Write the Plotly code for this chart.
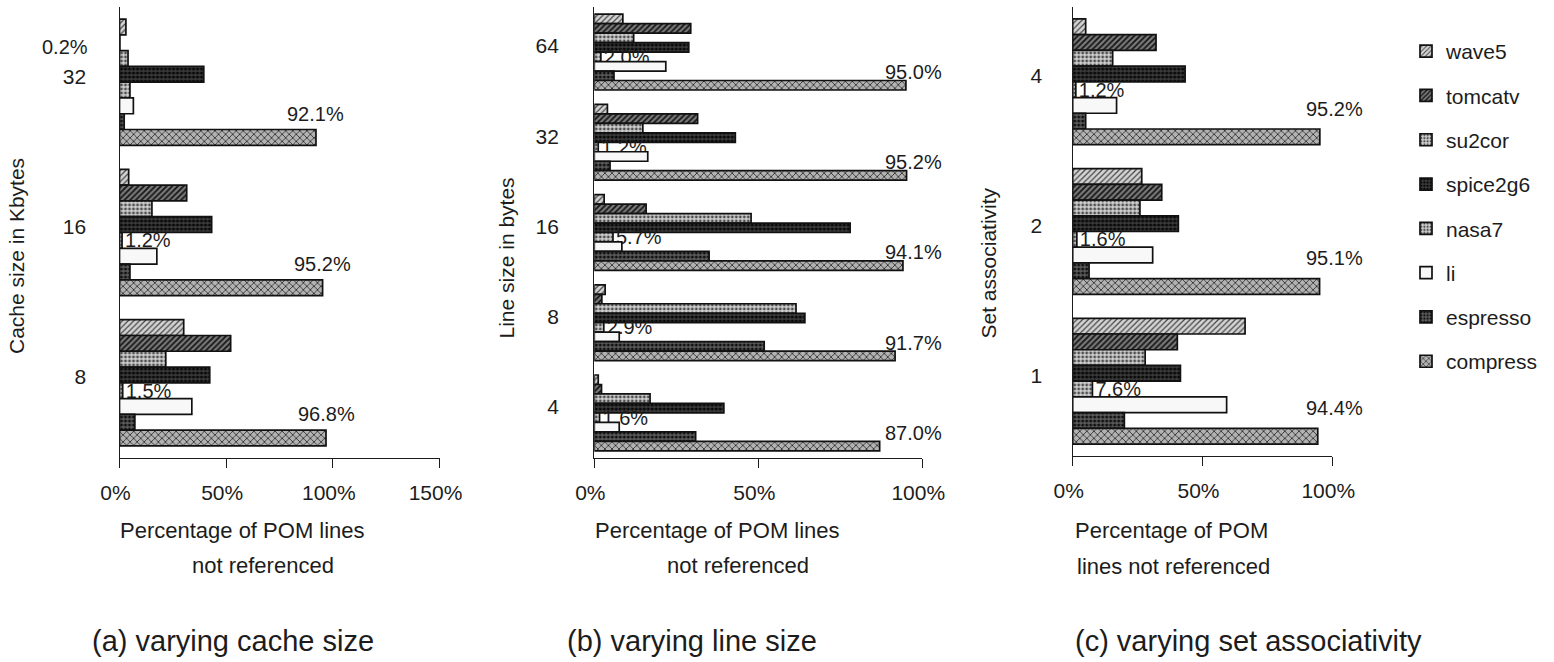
import plotly.graph_objects as go

FONT = "Liberation Sans, Arial, Helvetica, sans-serif"
INK = "#1c1c1c"
W, H = 1554, 662

SERIES = ["wave5", "tomcatv", "su2cor", "spice2g6", "nasa7", "li", "espresso", "compress"]

# (a) varying cache size (Kbytes)
cache_sizes = ["32", "16", "8"]
cache_wave5 = [3.0, 4.3, 30.1]
cache_tomcatv = [0.2, 31.5, 52.1]
cache_su2cor = [4.0, 15.2, 21.7]
cache_spice2g6 = [39.5, 43.2, 42.3]
cache_nasa7 = [4.9, 1.2, 1.5]
cache_li = [6.5, 17.5, 33.9]
cache_espresso = [2.2, 4.9, 7.2]
cache_compress = [92.1, 95.2, 96.8]
cache_small_label = ["tomcatv", "nasa7", "nasa7"]

# (b) varying line size (bytes)
line_sizes = ["64", "32", "16", "8", "4"]
line_wave5 = [8.7, 4.0, 3.0, 3.3, 1.2]
line_tomcatv = [29.4, 31.5, 15.8, 2.3, 2.2]
line_su2cor = [12.0, 14.8, 47.8, 61.5, 17.0]
line_spice2g6 = [28.8, 43.0, 78.0, 64.2, 39.5]
line_nasa7 = [2.0, 1.2, 5.7, 2.9, 1.6]
line_li = [21.8, 16.3, 8.4, 7.6, 7.6]
line_espresso = [6.0, 4.8, 35.0, 51.8, 30.9]
line_compress = [95.0, 95.2, 94.1, 91.7, 87.0]
line_small_label = ["nasa7", "nasa7", "nasa7", "nasa7", "nasa7"]

# (c) varying set associativity
assoc_ways = ["4", "2", "1"]
assoc_wave5 = [5.0, 26.6, 66.4]
assoc_tomcatv = [32.1, 34.3, 40.3]
assoc_su2cor = [15.4, 25.9, 27.9]
assoc_spice2g6 = [43.3, 40.7, 41.5]
assoc_nasa7 = [1.2, 1.6, 7.6]
assoc_li = [16.9, 30.8, 59.3]
assoc_espresso = [5.0, 6.3, 19.9]
assoc_compress = [95.2, 95.1, 94.4]
assoc_small_label = ["nasa7", "nasa7", "nasa7"]

ticks_a = [0, 50, 100, 150]
ticks_bc = [0, 50, 100]
ticktext_a = ["0%", "50%", "100%", "150%"]
ticktext_bc = ["0%", "50%", "100%"]


def px(x):
    return x / W


def py(y):
    return 1 - y / H


BARGAP = 0.16
SLOT = (1 - BARGAP) / len(SERIES)

FILL = {
    "wave5": dict(bg="#d4d4d4", fg="#444444", shape="/", size=4, solidity=0.3),
    "tomcatv": dict(bg="#7a7a7a", fg="#141414", shape="/", size=4, solidity=0.45),
    "su2cor": dict(bg="#d0d0d0", fg="#505050", shape=".", size=4, solidity=0.4),
    "spice2g6": dict(bg="#3c3c3c", fg="#080808", shape=".", size=4, solidity=0.5),
    "nasa7": dict(bg="#cfcfcf", fg="#505050", shape=".", size=4, solidity=0.4),
    "li": dict(bg="#f8f8f8", fg="#f8f8f8", shape="", size=4, solidity=0.3),
    "espresso": dict(bg="#5c5c5c", fg="#101010", shape=".", size=4, solidity=0.45),
    "compress": dict(bg="#b2b2b2", fg="#2a2a2a", shape="x", size=5, solidity=0.3),
}

panels = [
    dict(
        cats=cache_sizes,
        values=[cache_wave5, cache_tomcatv, cache_su2cor, cache_spice2g6,
                cache_nasa7, cache_li, cache_espresso, cache_compress],
        small=cache_small_label, small_side=["left", "right", "right"],
        xmax=150, ticks=ticks_a, ticktext=ticktext_a,
        xdom=(119.5, 439.5), ydom=(7, 458), standoff=28,
        ytitle="Cache size in Kbytes", ytitle_pos=(16.5, 256.5),
        xtitle=[("Percentage of POM lines", 118, 530), ("not referenced", 190, 565)],
        caption=("(a) varying cache size", 90),
        top_anchor="value", top_shift=0, top_slots=2.0,
    ),
    dict(
        cats=line_sizes,
        values=[line_wave5, line_tomcatv, line_su2cor, line_spice2g6,
                line_nasa7, line_li, line_espresso, line_compress],
        small=line_small_label, small_side=["right"] * 5,
        xmax=100, ticks=ticks_bc, ticktext=ticktext_bc,
        xdom=(594.3, 922.3), ydom=(7, 458), standoff=30,
        ytitle="Line size in bytes", ytitle_pos=(506, 258.5),
        xtitle=[("Percentage of POM lines", 593, 530), ("not referenced", 665, 565)],
        caption=("(b) varying line size", 565),
        top_anchor="axis", top_shift=-9, top_slots=2.1,
    ),
    dict(
        cats=assoc_ways,
        values=[assoc_wave5, assoc_tomcatv, assoc_su2cor, assoc_spice2g6,
                assoc_nasa7, assoc_li, assoc_espresso, assoc_compress],
        small=assoc_small_label, small_side=["right"] * 3,
        xmax=100, ticks=ticks_bc, ticktext=ticktext_bc,
        xdom=(1072.7, 1332.3), ydom=(7, 456), standoff=25,
        ytitle="Set associativity", ytitle_pos=(988, 263.5),
        xtitle=[("Percentage of POM", 1073, 530), ("lines not referenced", 1075, 566)],
        caption=("(c) varying set associativity", 1073),
        top_anchor="axis", top_shift=2, top_slots=1.7,
    ),
]

fig = go.Figure()
annotations = []
layout = {}

for k, p in enumerate(panels):
    n = k + 1
    xs = "" if n == 1 else str(n)
    xref, yref = "x" + xs, "y" + xs
    ncat = len(p["cats"])
    ypos = list(range(ncat))

    for si, name in enumerate(SERIES):
        vals = p["values"][si]
        text = [
            f"{v:.1f}%" if (p["small"][g] == name and p["small_side"][g] == "right") else ""
            for g, v in enumerate(vals)
        ]
        f = FILL[name]
        fig.add_trace(go.Bar(
            x=vals, y=ypos, orientation="h", name=name,
            xaxis=xref, yaxis=yref,
            legendgroup=name, showlegend=(k == 0),
            marker=dict(
                color=f["bg"],
                line=dict(color="#111111", width=1.7),
                pattern=dict(shape=f["shape"], fgcolor=f["fg"], bgcolor=f["bg"],
                             size=f["size"], solidity=f["solidity"], fillmode="replace"),
            ),
            text=text, textposition="outside", constraintext="none", cliponaxis=False,
            textfont=dict(family=FONT, size=20, color=INK),
            hoverinfo="skip",
        ))
        # small values whose label sits left of the axis
        for g, v in enumerate(vals):
            if p["small"][g] == name and p["small_side"][g] == "left":
                annotations.append(dict(
                    x=0, y=g + (si - 3.5) * SLOT, xref=xref, yref=yref,
                    text=f"{v:.1f}%", showarrow=False, xanchor="right", yanchor="middle",
                    xshift=-30, yshift=-4, font=dict(family=FONT, size=20, color=INK),
                ))

    # value labels just above the compress bars
    comp = p["values"][-1]
    for g, v in enumerate(comp):
        annotations.append(dict(
            x=v if p["top_anchor"] == "value" else p["ticks"][-1],
            y=g + p["top_slots"] * SLOT,
            xref=xref, yref=yref, text=f"{v:.1f}%", showarrow=False,
            xanchor="center", yanchor="middle", xshift=p["top_shift"],
            font=dict(family=FONT, size=20, color=INK),
        ))

    xdom = [px(p["xdom"][0]), px(p["xdom"][1])]
    ydom = [py(p["ydom"][1]), py(p["ydom"][0])]
    yrange = [ncat - 0.5, -0.5]
    bounds = [i - 0.5 for i in range(ncat + 1)]
    axis_line = dict(showgrid=False, zeroline=False, linecolor=INK, linewidth=1.4,
                     tickcolor=INK, tickwidth=1.4, automargin=False)

    layout["xaxis" + xs] = dict(
        domain=xdom, range=[0, p["xmax"]], anchor=yref, showline=True,
        tickmode="array", tickvals=p["ticks"], ticktext=p["ticktext"],
        ticks="outside", ticklen=9, ticklabelstandoff=7, ticklabelshift=-4,
        tickfont=dict(family=FONT, size=21, color=INK), **axis_line,
    )
    layout["xaxis" + str(n + 3)] = dict(
        overlaying=xref, range=[0, p["xmax"]], anchor=yref, showline=False,
        tickmode="array", tickvals=p["ticks"], ticks="inside", ticklen=10,
        showticklabels=False, **axis_line,
    )
    layout["yaxis" + xs] = dict(
        domain=ydom, range=yrange, anchor=xref, showline=True,
        tickmode="array", tickvals=ypos, ticktext=p["cats"], ticks="", ticklen=0,
        ticklabelstandoff=p["standoff"], ticklabelshift=6,
        tickfont=dict(family=FONT, size=21, color=INK), **axis_line,
    )
    layout["yaxis" + str(n + 3)] = dict(
        overlaying=yref, range=yrange, anchor=xref, showline=False,
        tickmode="array", tickvals=bounds, ticks="outside", ticklen=9,
        showticklabels=False, **axis_line,
    )
    layout["yaxis" + str(n + 6)] = dict(
        overlaying=yref, range=yrange, anchor=xref, showline=False,
        tickmode="array", tickvals=bounds, ticks="inside", ticklen=9,
        showticklabels=False, **axis_line,
    )

    # axis titles and caption
    tx, ty = p["ytitle_pos"]
    annotations.append(dict(
        x=px(tx), y=py(ty), xref="paper", yref="paper", text=p["ytitle"],
        textangle=-90, showarrow=False, xanchor="center", yanchor="middle",
        font=dict(family=FONT, size=21, color=INK),
    ))
    for txt, lx, ly in p["xtitle"]:
        annotations.append(dict(
            x=px(lx), y=py(ly), xref="paper", yref="paper", text=txt,
            showarrow=False, xanchor="left", yanchor="middle",
            font=dict(family=FONT, size=22, color=INK),
        ))
    cap, cx = p["caption"]
    annotations.append(dict(
        x=px(cx), y=py(641), xref="paper", yref="paper", text=cap,
        showarrow=False, xanchor="left", yanchor="middle",
        font=dict(family=FONT, size=29, color=INK),
    ))

fig.update_layout(
    width=W, height=H, margin=dict(l=0, r=0, t=0, b=0, autoexpand=False),
    paper_bgcolor="white", plot_bgcolor="rgba(0,0,0,0)",
    barmode="group", bargap=BARGAP, bargroupgap=0,
    font=dict(family=FONT, size=21, color=INK),
    annotations=annotations,
    legend=dict(
        x=px(1406), xanchor="left", y=py(31), yanchor="top",
        font=dict(family=FONT, size=21, color=INK),
        tracegroupgap=14, itemwidth=30, bgcolor="rgba(0,0,0,0)",
    ),
    **layout,
)

fig.write_html("out.html")
